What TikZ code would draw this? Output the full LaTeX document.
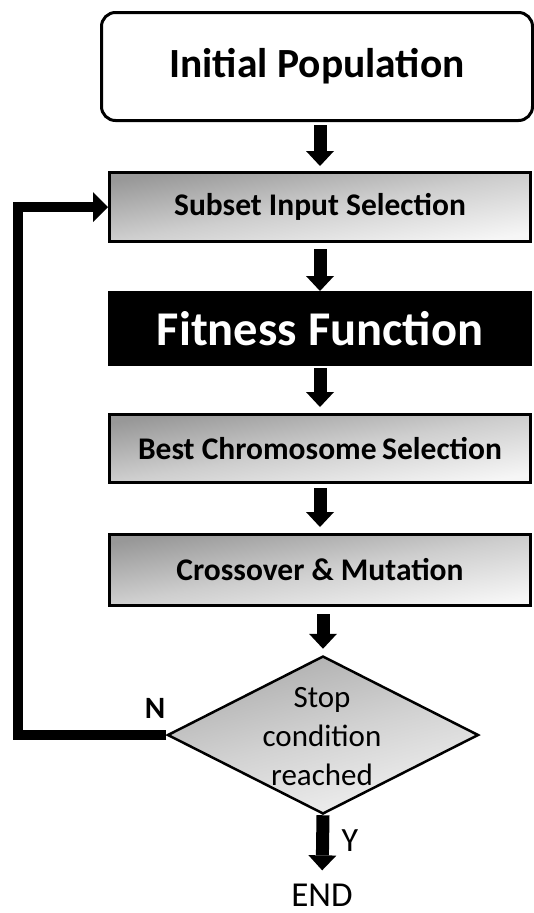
\documentclass[tikz,border=0pt]{standalone}
\usepackage{fontspec}
\setmainfont{Carlito}
\usetikzlibrary{shapes.geometric,arrows.meta}
\definecolor{shadeA}{RGB}{152,152,152}
\definecolor{shadeM}{RGB}{206,206,206}
\definecolor{shadeB}{RGB}{246,246,246}
\definecolor{dshadeA}{RGB}{172,172,172}
\definecolor{dshadeM}{RGB}{210,210,210}
\definecolor{dshadeB}{RGB}{242,242,242}
\begin{document}
\begin{tikzpicture}[x=1pt,y=-1pt,
  procbox/.style={rectangle, draw=black, line width=3pt, minimum width=421pt, inner sep=0pt,
    top color=shadeA, bottom color=shadeB, middle color=shadeM, shading angle=9,
    font=\fontsize{31.5}{37}\selectfont\bfseries},
  startbox/.style={rectangle, draw=black, line width=3pt, rounded corners=14pt, fill=white,
    minimum width=431pt, minimum height=108pt, inner sep=0pt,
    font=\fontsize{41.5}{49}\selectfont\bfseries},
  fitbox/.style={rectangle, draw=black, fill=black, text=white, line width=3pt,
    minimum width=421pt, minimum height=72pt, inner sep=0pt,
    font=\fontsize{48.5}{56}\selectfont\bfseries},
  decbox/.style={diamond, draw=black, line width=2.5pt, inner sep=0pt,
    minimum width=311pt, minimum height=158pt,
    top color=dshadeA, bottom color=dshadeB, middle color=dshadeM, shading angle=15},
  dectext/.style={align=center, inner sep=0pt, font=\fontsize{31}{39}\selectfont},
  blockarrow/.style={draw=black, line width=13pt,
    -{Triangle[width=28pt,length=15pt,line width=0pt]}},
  looparrow/.style={draw=black, line width=10pt, line join=miter,
    -{Triangle[width=30pt,length=15pt,line width=0pt]}},
  lab/.style={inner sep=0pt}
]
\useasboundingbox (0,0) rectangle (534,913);

\node[startbox] (init) at (317,66.5) {Initial Population};
\node[procbox, minimum height=69pt] (subset) at (320,207) {Subset Input Selection};
\node[fitbox] (fit) at (320,328.5) {Fitness Function};
\node[procbox, minimum height=68pt] (best) at (320,448.5) {Best Chromosome\kern-0.05em\ Selection};
\node[procbox, minimum height=71pt] (cross) at (320,570) {Crossover \& Mutation};
\node[decbox] (d) at (323,735) {};
\node[dectext] (dtext) at (322,737) {Stop\\condition\\reached};
\node[lab, anchor=base, text depth=0pt, font=\fontsize{35}{40}\selectfont] (endn) at (322,906) {END};
\node[lab, font=\fontsize{34}{40}\selectfont] (ylab) at (350,841) {Y};
\node[lab, font=\fontsize{31}{36}\selectfont\bfseries] (nlab) at (155,708) {N};
\coordinate (lc) at (18,735);

\draw[blockarrow, shorten <=3pt, shorten >=5pt] (init.south -| subset.north) -- (subset.north);
\draw[blockarrow, shorten <=6pt, shorten >=0pt] (subset.south) -- (fit.north);
\draw[blockarrow, shorten <=2pt, shorten >=6pt] (fit.south) -- (best.north);
\draw[blockarrow, shorten <=4pt, shorten >=6pt] (best.south) -- (cross.north);
\draw[blockarrow, shorten <=7pt, shorten >=6pt] (cross.south -| d.north) -- (d.north);
\draw[blockarrow, shorten >=13pt] (d.south) -- (endn.north);
\draw[looparrow] (d.west) -- (lc) |- (subset.west);
\end{tikzpicture}
\end{document}
